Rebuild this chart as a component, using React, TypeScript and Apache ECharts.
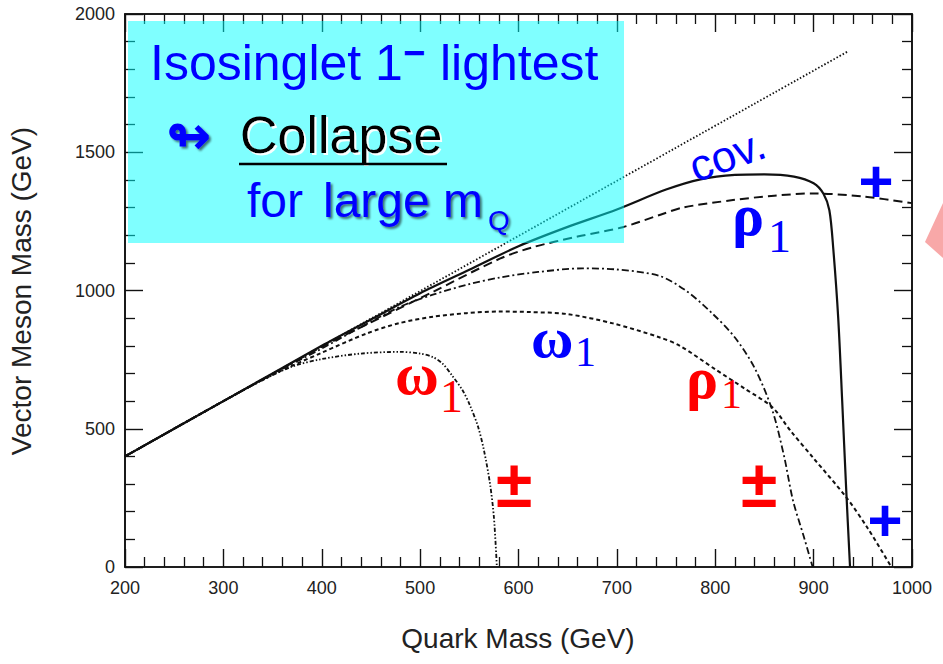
import React, { useEffect, useRef } from "react";
import * as echarts from "echarts";

// Curves: [quark mass (GeV), vector meson mass (GeV)]
const dottedFree = [[200, 400], [935, 1865]];
const solidCov = [
  [200, 400], [300, 600], [400, 800], [450, 895], [500, 990], [550, 1075], [600, 1160],
  [650, 1230], [700, 1293], [750, 1365], [785, 1402], [820, 1418], [850, 1420], [880, 1412],
  [900, 1388], [910, 1350], [916, 1290], [920, 1150], [925, 900], [929, 603], [933, 289], [937, 0],
];
const dashedRho = [
  [200, 400], [300, 600], [400, 796], [450, 885], [513, 995], [581, 1115], [615, 1157],
  [660, 1195], [706, 1229], [745, 1275], [767, 1300], [818, 1327], [860, 1343], [899, 1351],
  [950, 1340], [1000, 1316],
];
const dashDotRho = [
  [200, 400], [300, 600], [350, 698], [400, 790], [440, 868], [479, 940], [513, 985],
  [550, 1023], [581, 1047], [620, 1067], [665, 1080], [700, 1076], [743, 1053], [770, 1000],
  [797, 917], [820, 830], [840, 720], [858, 567], [870, 400], [879, 241], [890, 110], [899, 0],
];
const shortDashOmega = [
  [200, 400], [300, 600], [350, 695], [400, 775], [446, 845], [479, 882], [513, 905],
  [547, 918], [580, 924], [612, 922], [649, 915], [696, 881], [743, 831], [764, 800],
  [800, 715], [830, 645], [858, 578], [876, 495], [900, 393], [933, 253], [955, 140], [979, 0],
];
const dashDotDotOmega = [
  [200, 400], [300, 600], [340, 676], [370, 725], [400, 752], [440, 772], [480, 778],
  [500, 772], [513, 759], [523, 735], [533, 690], [543, 640], [550, 590], [559, 506],
  [565, 420], [571, 302], [575, 180], [578, 0],
];

const xRange = [200, 1000];
const yRange = [0, 2000];
const xStep = 100;
const yStep = 500;

const SANS = "'Liberation Sans', Arial, Helvetica, sans-serif";
const SERIF = "'Liberation Serif', 'Times New Roman', serif";
const BLUE = "#0000ff";
const RED = "#ff0000";
const INK = "#111";

function axisCommon(showLabel: boolean, isX: boolean) {
  return {
    type: "value" as const,
    min: isX ? xRange[0] : yRange[0],
    max: isX ? xRange[1] : yRange[1],
    interval: isX ? xStep : yStep,
    axisLine: { show: true, onZero: false, lineStyle: { color: INK, width: 1.6 } },
    axisTick: { show: true, inside: true, length: 18, lineStyle: { color: INK, width: 1.4 } },
    minorTick: { show: true, splitNumber: 5, length: 10, lineStyle: { color: INK, width: 1.3 } },
    splitLine: { show: false },
    minorSplitLine: { show: false },
    axisLabel: {
      show: showLabel,
      fontSize: 18,
      color: "#222",
      fontFamily: SANS,
      margin: isX ? 12 : 10,
      formatter: (v: number) => String(v),
    },
  };
}

function line(data: number[][], type: any, width: number) {
  return {
    type: "line",
    data,
    showSymbol: false,
    symbol: "none",
    smooth: 0.3,
    clip: true,
    lineStyle: { color: INK, width, type },
    z: 3,
  };
}

function txt(text: string, x: number, y: number, fontSize: number, fill: string, extra: any = {}) {
  const { family, weight, align, rotation, shadow } = extra;
  return {
    type: "text",
    x,
    y,
    rotation: rotation || 0,
    z: 120,
    style: {
      text,
      fill,
      fontSize,
      fontFamily: family || SANS,
      fontWeight: weight || "normal",
      align: align || "left",
      verticalAlign: "middle",
      ...(shadow || {}),
    },
  };
}

export default function App() {
  const ref = useRef<HTMLDivElement>(null);
  useEffect(() => {
    const chart = echarts.init(ref.current!, null, { renderer: "svg" });
    const darkShadow = {
      textShadowColor: "rgba(0,0,0,0.55)",
      textShadowBlur: 2,
      textShadowOffsetX: 2,
      textShadowOffsetY: 2,
    };
    const whiteShadow = {
      textShadowColor: "rgba(255,255,255,0.95)",
      textShadowBlur: 1,
      textShadowOffsetX: 2,
      textShadowOffsetY: 2,
    };
    chart.setOption({
      animation: false,
      backgroundColor: "#ffffff",
      grid: { left: 125, right: 31, top: 14, bottom: 97, show: true, borderColor: INK, borderWidth: 1.6, backgroundColor: "transparent" },
      xAxis: [
        { ...axisCommon(true, true), position: "bottom" },
        { ...axisCommon(false, true), position: "top" },
      ],
      yAxis: [
        { ...axisCommon(true, false), position: "left" },
        { ...axisCommon(false, false), position: "right" },
      ],
      series: [
        line(dottedFree, [1.5, 2], 1.8),
        line(solidCov, "solid", 2.2),
        line(dashedRho, [9, 5], 2),
        line(dashDotRho, [7, 3, 2, 3], 1.8),
        line(shortDashOmega, [4, 3], 2),
        line(dashDotDotOmega, [4, 2, 1.5, 2, 1.5, 2], 1.8),
      ],
      graphic: [
        {
          type: "rect",
          z: 100,
          shape: { x: 128, y: 21, width: 496, height: 222 },
          style: { fill: "rgba(0,255,255,0.5)" },
        },
        txt("Isosinglet 1", 150, 62.5, 50, BLUE),
        txt("\u2212", 403, 52.5, 38, BLUE, { weight: "bold" }),
        txt("lightest", 440, 62.5, 50, BLUE),
        txt("\u21AC", 166, 135, 54, BLUE, { family: "'DejaVu Sans', sans-serif", weight: "bold", shadow: darkShadow }),
        txt("Collapse", 240, 135, 52, "#000", { shadow: whiteShadow }),
        {
          type: "line",
          z: 120,
          shape: { x1: 239, y1: 164, x2: 447, y2: 164 },
          style: { stroke: "#000", lineWidth: 2.5 },
        },
        txt("for", 247, 200.5, 48, BLUE),
        txt("large m", 323, 200.5, 48, BLUE, { shadow: darkShadow }),
        txt("Q", 488, 220, 28, BLUE, { shadow: darkShadow }),
        txt("cov.", 727, 155, 44, BLUE, { align: "center", rotation: 0.34 }),
        txt("\u03C1", 732, 215, 60, BLUE, { family: SERIF, weight: "bold" }),
        txt("1", 768, 236, 46, BLUE, { family: SERIF }),
        txt("\u03C9", 531, 337, 58, BLUE, { family: SERIF, weight: "bold" }),
        txt("1", 575, 352, 42, BLUE, { family: SERIF }),
        txt("\u03C9", 395, 374, 60, RED, { family: SERIF, weight: "bold" }),
        txt("1", 440, 396, 46, RED, { family: SERIF }),
        txt("\u03C1", 686, 378, 60, RED, { family: SERIF, weight: "bold" }),
        txt("1", 721, 393.5, 42, RED, { family: SERIF }),
        txt("+", 876, 181, 60, BLUE, { align: "center", weight: "bold" }),
        txt("+", 885, 520, 60, BLUE, { align: "center", weight: "bold" }),
        txt("\u00B1", 514, 484, 66, RED, { align: "center", weight: "bold" }),
        txt("\u00B1", 759, 484, 66, RED, { align: "center", weight: "bold" }),
        {
          type: "polygon",
          z: 100,
          shape: { points: [[925, 242], [943, 203], [943, 258]] },
          style: { fill: "#f8a8a8" },
        },
        txt("Quark Mass (GeV)", 518, 638, 28, "#222", { align: "center" }),
        txt("Vector Meson Mass (GeV)", 21, 291, 28, "#222", { align: "center", rotation: Math.PI / 2 }),
      ],
    });
    return () => chart.dispose();
  }, []);
  return (
    <div
      ref={ref}
      style={{ position: "fixed", left: 0, top: 0, width: 943, height: 664 }}
    />
  );
}
